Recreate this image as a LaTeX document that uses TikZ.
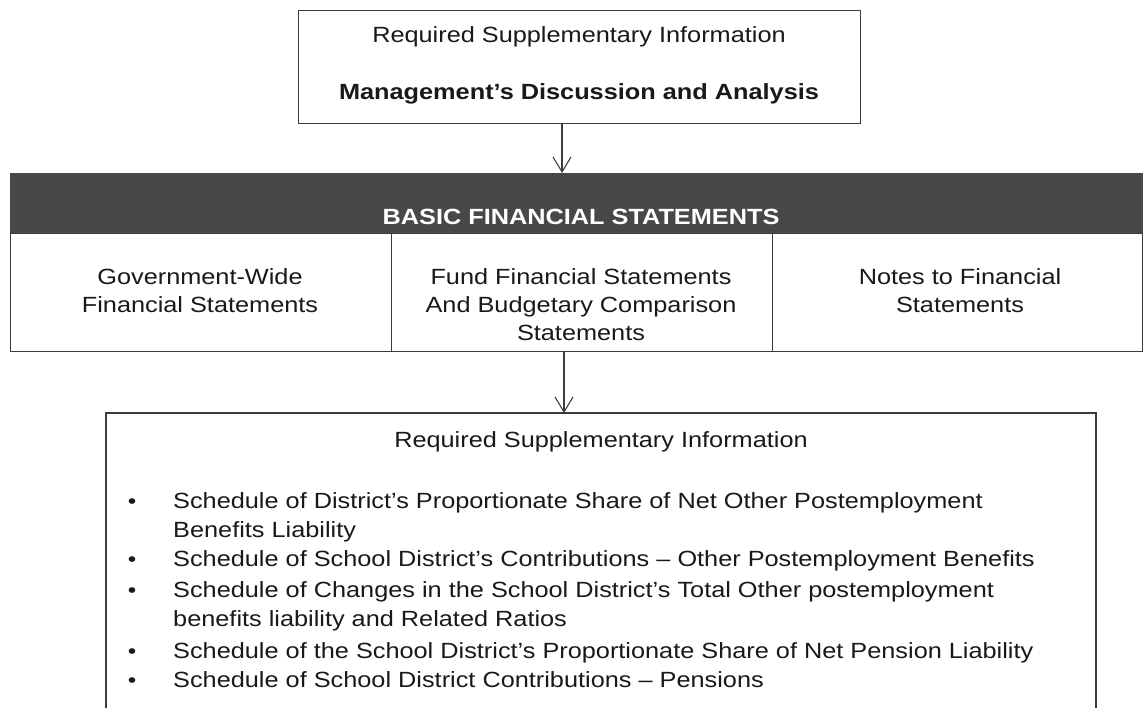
\documentclass[tikz,border=0pt]{standalone}
\usepackage{fontspec}
\setmainfont{Liberation Sans}[FakeStretch=1.15]
\usetikzlibrary{arrows.meta}
\definecolor{bandgray}{RGB}{74,71,72}
\definecolor{linegray}{RGB}{60,60,60}
\definecolor{ink}{RGB}{25,25,25}
\begin{document}
\begin{tikzpicture}[x=1pt,y=-1pt,
  frame/.style={draw=linegray, line width=1.2pt, inner sep=0pt, anchor=north west},
  txt/.style={inner sep=0pt, anchor=base, text=ink, font=\fontsize{22}{29}\selectfont},
  item/.style={txt, anchor=base west, align=left},
  bul/.style={txt, font=\fontsize{21}{29}\selectfont},
  arr/.style={draw=linegray, line width=1.1pt, -{Straight Barb[length=15pt,width=18pt]}}]
\useasboundingbox (0,0) rectangle (1143,708);
\fill[white] (0,0) rectangle (1143,708);
% top box
\node[frame, minimum width=562pt, minimum height=113pt] (top) at (298,10) {};
\node[txt] (t1) at (579,43) {Required Supplementary Information};
\node[txt, font=\fontsize{22}{29}\selectfont\bfseries] (t2) at (579,100) {Management's Discussion and Analysis};
% band
\node[frame, fill=bandgray, draw=bandgray, minimum width=1133pt, minimum height=60pt] (band) at (10,173) {};
\node[txt, text=white, font=\fontsize{22}{29}\selectfont\bfseries] (bt) at (581,225) {BASIC FINANCIAL STATEMENTS};
% three boxes
\node[frame, minimum width=381pt, minimum height=118pt] (gw) at (10,233) {};
\node[frame, minimum width=381pt, minimum height=118pt] (ff) at (391,233) {};
\node[frame, minimum width=370pt, minimum height=118pt] (nt) at (772,233) {};
\node[txt] (gw1) at (200,285) {Government-Wide};
\node[txt] (gw2) at (200,313) {Financial Statements};
\node[txt] (ff1) at (581,285) {Fund Financial Statements};
\node[txt] (ff2) at (581,313) {And Budgetary Comparison};
\node[txt] (ff3) at (581,341) {Statements};
\node[txt] (nt1) at (960,285) {Notes to Financial};
\node[txt] (nt2) at (960,313) {Statements};
% bottom box (open at the lower edge)
\coordinate (bl) at (106,708);
\coordinate (br) at (1096,708);
\coordinate (btop) at (564,413);
\draw[draw=linegray, line width=1.2pt] (bl) |- (br |- btop) -- (br);
\node[txt] (r1) at (601,447) {Required Supplementary Information};
\node[bul] (b1) at (132,508) {\textbullet};
\node[bul] (b2) at (132,566) {\textbullet};
\node[bul] (b3) at (132,597) {\textbullet};
\node[bul] (b4) at (132,658) {\textbullet};
\node[bul] (b5) at (132,687) {\textbullet};
% multi-line nodes: the base anchor is the baseline of the last line
\node[item] (i1) at (173,537) {Schedule of District's Proportionate Share of Net Other Postemployment\\Benefits Liability};
\node[item] (i2) at (173,566) {Schedule of School District's Contributions -- Other Postemployment Benefits};
\node[item] (i3) at (173,626) {Schedule of Changes in the School District's Total Other postemployment\\benefits liability and Related Ratios};
\node[item] (i4) at (173,658) {Schedule of the School District's Proportionate Share of Net Pension Liability};
\node[item] (i5) at (173,687) {Schedule of School District Contributions -- Pensions};
% arrows
\coordinate (x1) at (562,0);
\draw[arr] (top.south -| x1) -- (band.north -| x1);
\draw[arr] (ff.south -| btop) -- (btop);
\end{tikzpicture}
\end{document}
